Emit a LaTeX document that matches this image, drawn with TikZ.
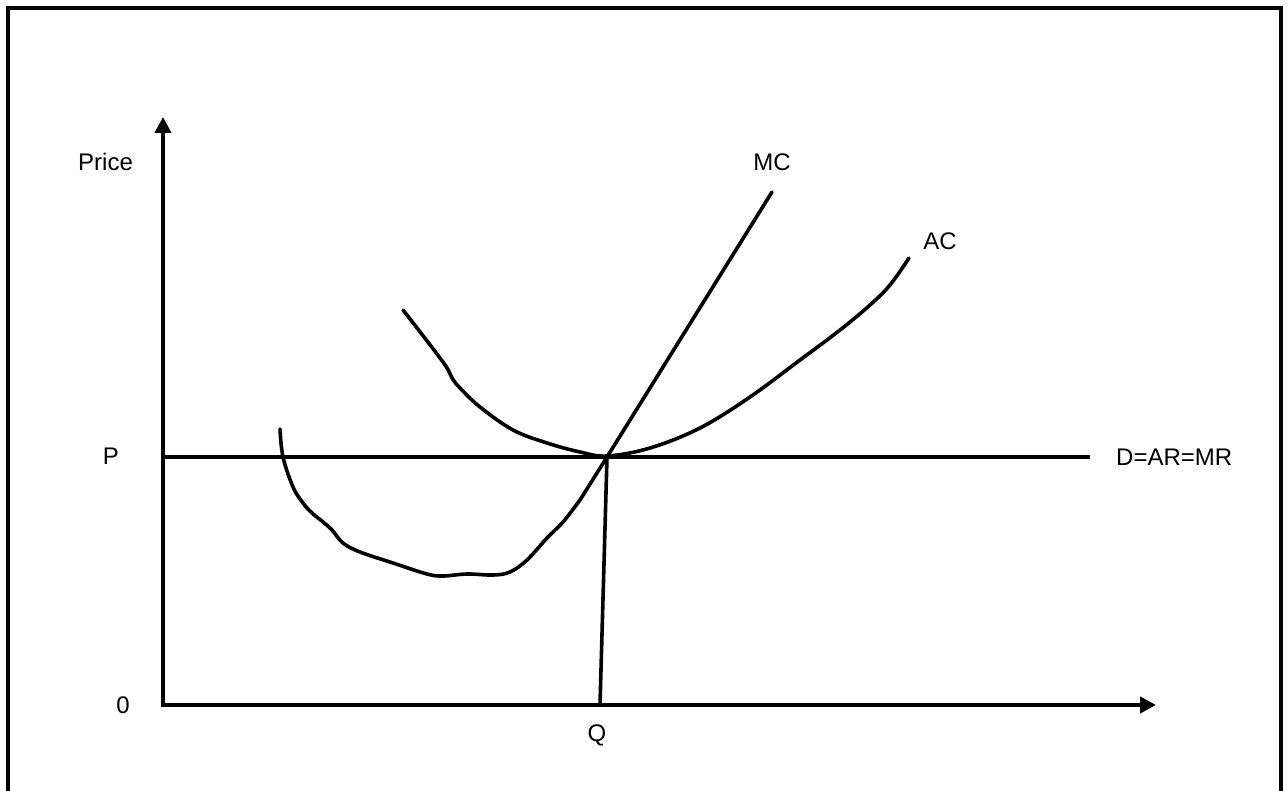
\documentclass[tikz,border=0pt]{standalone}
\usepackage{fontspec}
\setmainfont{Liberation Sans}
\usetikzlibrary{arrows.meta}
\begin{document}
\begin{tikzpicture}[x=1pt,y=-1pt,
  frame/.style={line width=4pt},
  axisline/.style={line width=4pt,{Triangle[length=16pt,width=16pt]}-{Triangle[length=16pt,width=16pt]}},
  curve/.style={line width=3.6pt, line cap=round, line join=round},
  lbl/.style={font=\fontsize{24}{28}\selectfont, inner sep=0pt}]
\useasboundingbox (0,0) rectangle (1288,791);
\draw[frame] (8,810) -- (8,8) -- (1281,8) -- (1281,810);
% key points
\coordinate (O) at (163,705);
\coordinate (ytip) at (163,117);
\coordinate (xtip) at (1156,705);
\coordinate (Pl) at (163,457);
\coordinate (Pr) at (1090,457);
\coordinate (E) at (607,457);
\coordinate (Qb) at (600,705);
\coordinate (MCtop) at (772,192);
% axes
\draw[axisline] (ytip) -- (O) -- (xtip);
% price line
\draw[curve, line cap=butt] (Pl) -- (Pr);
% Q line
\draw[curve, line cap=butt] (E) -- (Qb);
% MC
\draw[curve] plot[smooth, tension=0.6] coordinates {(280,429) (283,457) (293,487) (303,503) (312,513) (323,522) (332,530) (343,543) (360,552) (393,563) (427,574) (443,576) (467,574) (493,575) (510,572) (527,560) (547,538) (563,522) (580,500)} -- (E) -- (MCtop);
% AC
\draw[curve] plot[smooth, tension=0.6] coordinates {(403,310) (443,362) (452,378) (460,388) (480,407) (513,430) (547,443) (580,452) (607,456) (650,448) (700,428) (750,397) (800,360) (840,330) (870,305) (890,285) (909,258)};
% labels
\node[lbl, anchor=west] (price) at (78,162) {Price};
\node[lbl] (mc) at (772,162) {MC};
\node[lbl] (ac) at (940,241) {AC};
\node[lbl] (p) at (111,456) {P};
\node[lbl, anchor=west] (dar) at (1116,457) {D=AR=MR};
\node[lbl] (zero) at (123,705) {0};
\node[lbl] (q) at (597,735) {Q};
\end{tikzpicture}
\end{document}
